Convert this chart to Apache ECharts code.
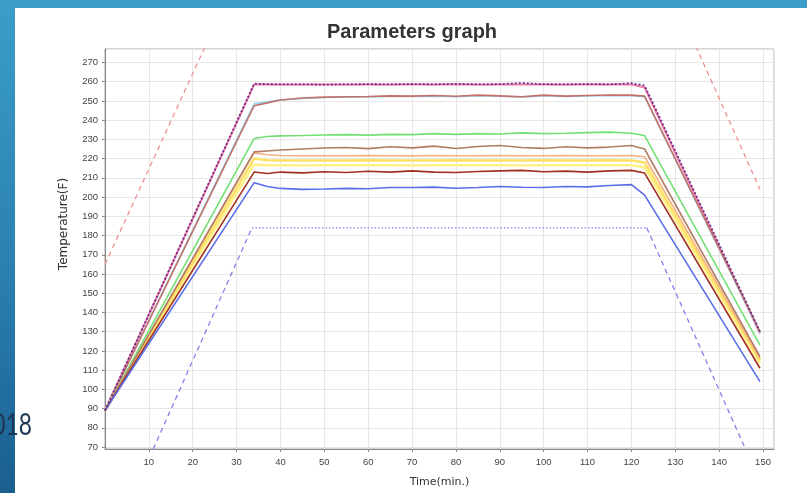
<!DOCTYPE html>
<html>
<head>
<meta charset="utf-8">
<script src="https://cdn.jsdelivr.net/npm/echarts@6/dist/echarts.min.js"></script>
<style>
html,body{margin:0;padding:0;}
#chart{width:807px;height:493px;background:linear-gradient(180deg,#3b9dca 0%,#2a80b1 55%,#1a5f8f 100%);}
</style>
</head>
<body>
<div id="chart"></div>
<script>
// time axis (min.) shared by the measured probes
var times = [0, 34, 37, 40, 45, 50, 55, 60, 65, 70, 75, 80, 85, 90, 95, 100, 105, 110, 115, 120, 123, 149.3];

var pinkSet   = [89, 258.5, 258.5, 258.5, 258.5, 258.5, 258.5, 258.5, 258.5, 258.5, 258.5, 258.5, 258.5, 258.5, 258.5, 258.5, 258.5, 258.5, 258.5, 258.5, 257, 129];
var purpleTop = [89, 259, 258.7, 258.6, 258.6, 258.5, 258.6, 258.7, 258.6, 258.8, 258.6, 258.9, 258.6, 258.7, 259.3, 258.7, 258.6, 258.8, 258.6, 259.2, 258, 130];
var cyan      = [89, 248.5, 249.5, 250.5, 251.3, 251.8, 252, 252.1, 252.3, 252.3, 252.5, 252.2, 252.7, 252.4, 252, 252.7, 252.3, 252.6, 252.8, 252.7, 252.2, 129.5];
var brown     = [89, 247.5, 249, 250.5, 251.5, 252, 252.2, 252.3, 252.6, 252.5, 252.8, 252.4, 253, 252.6, 252.2, 253, 252.5, 252.8, 253.1, 253, 252.5, 130];
var green     = [89, 230.5, 231.5, 231.8, 232, 232.3, 232.5, 232.2, 232.6, 232.5, 233, 232.6, 233, 232.8, 233.4, 233, 233.2, 233.5, 233.8, 233.2, 232, 123];
var tan       = [89, 223.5, 224, 224.5, 225, 225.5, 225.8, 225.2, 226.2, 225.6, 226.5, 225.3, 226.3, 226.8, 225.8, 225.3, 226.2, 225.6, 226, 226.8, 225, 117];
var orange    = [89, 223, 222, 221.6, 221.5, 221.5, 221.5, 221.6, 221.5, 221.4, 221.6, 221.5, 221.5, 221.6, 221.5, 221.5, 221.6, 221.5, 221.5, 221.6, 221, 116];
var yellow    = [89, 220, 219.2, 219, 219, 219, 219, 219.1, 219, 219, 219, 219.1, 219, 219, 219, 219.1, 219, 219, 219.2, 219, 218, 115];
var yellowLt  = [89, 217, 216.5, 216.5, 216.4, 216.5, 216.6, 216.5, 216.5, 216.4, 216.5, 216.6, 216.5, 216.5, 216.4, 216.5, 216.5, 216.6, 216.5, 216.5, 215.5, 113.5];
var darkRed   = [89, 213, 212.3, 213, 212.6, 213.2, 212.8, 213.4, 213, 213.6, 213, 212.8, 213.3, 213.6, 213.9, 213.2, 213.5, 213, 213.6, 213.9, 212.5, 111];
var blue      = [89, 207.5, 205.5, 204.5, 204, 204.2, 204.5, 204.3, 205, 205, 205.2, 204.6, 205, 205.5, 205.1, 205, 205.5, 205.3, 206, 206.5, 201, 104];

// limit lines [time, temp]
var upperRise = [[0, 165], [25, 289]];
var upperFall = [[133, 287], [149.3, 204]];
var lowerRise = [[11, 69], [33.5, 184]];
var lowerHold = [[33.5, 184], [123.5, 184]];
var lowerFall = [[123.5, 184], [146, 69]];

function pairs(vals) {
    return times.map(function (t, i) { return [t, vals[i]]; });
}
function probe(name, vals, color, width, type) {
    return {
        name: name, type: 'line', data: pairs(vals), showSymbol: false,
        lineStyle: { color: color, width: width, type: type || 'solid' }
    };
}
function limit(name, data, color, type) {
    return {
        name: name, type: 'line', data: data, showSymbol: false,
        lineStyle: { color: color, width: 1.3, type: type }
    };
}

var chart = echarts.init(document.getElementById('chart'));
var option = {
    animation: false,
    backgroundColor: 'transparent',
    textStyle: { fontFamily: 'Liberation Sans, Arial, sans-serif' },
    graphic: [
        { type: 'rect', z: -10, shape: { x: 15, y: 8, width: 800, height: 490 }, style: { fill: '#fff' } },
        { type: 'text', z: 10, x: 64, y: 224, rotation: Math.PI / 2,
          style: { text: 'Temperature(F)', fill: '#333', font: '12px DejaVu Sans', textAlign: 'center', textVerticalAlign: 'middle' } },
        { type: 'text', z: 10, x: 32, y: 425, scaleX: 0.76,
          style: { text: '2018', fill: '#1c3552', font: '30px Lato', textAlign: 'right', textVerticalAlign: 'middle' } }
    ],
    title: {
        text: 'Parameters graph', left: 322, top: 17,
        textStyle: { fontSize: 20, fontWeight: 'bold', color: '#333' }
    },
    grid: { left: 105, top: 49, right: 33, bottom: 43, show: true, borderColor: '#aaa', borderWidth: 1 },
    xAxis: {
        type: 'value', min: 0, max: 152.5, interval: 10,
        name: 'Time(min.)', nameLocation: 'middle', nameGap: 28,
        nameTextStyle: { fontSize: 11, color: '#333', fontFamily: 'DejaVu Sans' },
        axisLine: { lineStyle: { color: '#888' } },
        axisTick: { length: 3, lineStyle: { color: '#888' } },
        axisLabel: { fontSize: 9.5, color: '#444', margin: 8, showMinLabel: false, showMaxLabel: false },
        splitLine: { lineStyle: { color: '#e6e6e6' } }
    },
    yAxis: {
        type: 'value', min: 69, max: 277, splitNumber: 20,
        axisLine: { show: true, lineStyle: { color: '#888' } },
        axisTick: { show: true, length: 3, lineStyle: { color: '#888' } },
        axisLabel: { fontSize: 9.5, color: '#444', margin: 7, showMinLabel: false, showMaxLabel: false },
        splitLine: { lineStyle: { color: '#e6e6e6' } }
    },
    series: [
        limit('upperRise', upperRise, '#f09090', [5, 4]),
        limit('upperFall', upperFall, '#f09090', [5, 4]),
        limit('lowerRise', lowerRise, '#8080ee', [5, 4]),
        limit('lowerHold', lowerHold, '#8080ee', [1.5, 2]),
        limit('lowerFall', lowerFall, '#8080ee', [5, 4]),
        probe('pinkSet', pinkSet, '#f07fa8', 2),
        probe('cyan', cyan, '#8fd6f0', 1.6),
        probe('brown', brown, '#c47068', 1.6),
        probe('green', green, '#72e072', 1.6),
        probe('yellowLt', yellowLt, '#fff088', 2.5),
        probe('yellow', yellow, '#ffe066', 2.5),
        probe('orange', orange, '#f5b080', 1.6),
        probe('tan', tan, '#b07c64', 1.6),
        probe('darkRed', darkRed, '#a03022', 1.6),
        probe('blue', blue, '#5a6ee8', 1.6),
        probe('purpleTop', purpleTop, '#6a2a8a', 1.8, [2, 2])
    ]
};
chart.setOption(option);
</script>
</body>
</html>
